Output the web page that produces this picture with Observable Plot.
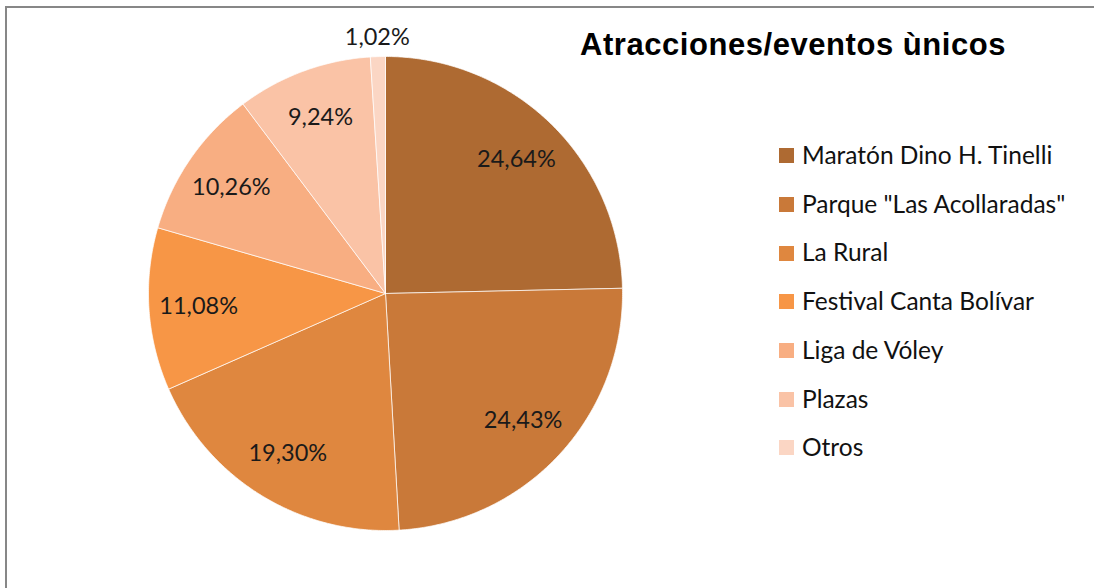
<!DOCTYPE html>
<html><head><meta charset="utf-8">
<script src="https://cdn.jsdelivr.net/npm/d3@7"></script>
<script src="https://cdn.jsdelivr.net/npm/@observablehq/plot@0.6"></script>
<style>
body{margin:0;background:#fff;}
#wrap{position:relative;width:1094px;height:588px;overflow:hidden;background:#fff;}
#chart{position:absolute;left:0;top:0;}
#frame{position:absolute;left:5px;top:6px;right:-10px;bottom:-10px;border-left:2px solid #878787;border-top:2px solid #878787;pointer-events:none;}
#title{position:absolute;left:580px;top:27px;font:bold 31px "Liberation Sans",Arial,sans-serif;letter-spacing:0.55px;color:#000;white-space:nowrap;}
.item{position:absolute;left:779px;height:26px;white-space:nowrap;font:24.5px Lato,sans-serif;color:#111;line-height:26px;}
.sw{display:inline-block;width:15px;height:15px;vertical-align:middle;margin-right:8px;position:relative;top:-2px;}
</style></head>
<body>
<div id="wrap">
  <div id="chart"></div>
  <div id="frame"></div>
  <div id="title">Atracciones/eventos ùnicos</div>
  <div id="legend"></div>
</div>
<script>
const categories = ["Maratón Dino H. Tinelli", "Parque \"Las Acollaradas\"", "La Rural", "Festival Canta Bolívar", "Liga de Vóley", "Plazas", "Otros"];
const values = [24.64, 24.43, 19.30, 11.08, 10.26, 9.24, 1.02];
const colors = ["#AE6A32", "#C97939", "#DF873F", "#F79646", "#F8AE82", "#FAC3A6", "#FBD6C4"];
const labels = values.map(v => v.toFixed(2).replace(".", ",") + "%");

const total = d3.sum(values);
const points = [];
const labelData = [];
let cum = 0;
values.forEach((v, i) => {
  const a0 = cum / total * 2 * Math.PI;
  const a1 = (cum + v) / total * 2 * Math.PI;
  cum += v;
  points.push({name: categories[i], x: 0, y: 0});
  const n = Math.max(2, Math.ceil((a1 - a0) / (Math.PI / 360)));
  for (let k = 0; k <= n; k++) {
    const a = a0 + (a1 - a0) * k / n;
    points.push({name: categories[i], x: Math.sin(a), y: Math.cos(a)});
  }
  points.push({name: categories[i], x: 0, y: 0});
  const am = (a0 + a1) / 2;
  const f = v < 3 ? 1.08 : 0.79;
  labelData.push({x: f * Math.sin(am), y: f * Math.cos(am), text: labels[i]});
});

const chart = Plot.plot({
  width: 1094,
  height: 588,
  marginLeft: 148,
  marginRight: 472,
  marginTop: 56,
  marginBottom: 58,
  x: {domain: [-1, 1], axis: null},
  y: {domain: [-1, 1], axis: null},
  color: {domain: categories, range: colors},
  style: {background: "transparent", overflow: "visible"},
  marks: [
    Plot.line(points, {x: "x", y: "y", z: "name", fill: "name", stroke: "#ffffff", strokeOpacity: 0.7, strokeWidth: 1, curve: "linear"}),
    Plot.text(labelData, {x: "x", y: "y", text: "text", fontSize: 23.5, fontFamily: "Lato, sans-serif", fill: "#1a1a1a", clip: false})
  ]
});
document.getElementById("chart").appendChild(chart);

const legend = document.getElementById("legend");
categories.forEach((c, i) => {
  const d = document.createElement("div");
  d.className = "item";
  d.style.top = (142 + i * 48.7) + "px";
  d.innerHTML = `<span class="sw" style="background:${colors[i]}"></span>`;
  d.appendChild(document.createTextNode(c));
  legend.appendChild(d);
});
</script>
</body></html>
